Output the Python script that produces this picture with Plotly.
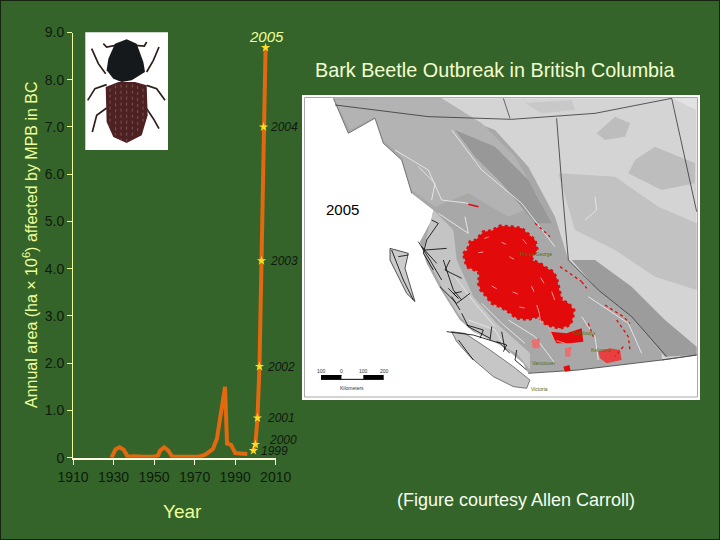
import plotly.graph_objects as go

hist_years = [1929, 1931, 1933, 1935, 1937, 1940, 1945, 1950, 1952, 1953, 1955, 1957, 1959, 1965, 1968, 1972, 1975, 1979,
              1981, 1983, 1985, 1986, 1988, 1990, 1993, 1996]
hist_area = [0.0, 0.18, 0.22, 0.17, 0.02, 0.03, 0.02, 0.02, 0.05, 0.15, 0.22, 0.15, 0.02, 0.02, 0.04, 0.02, 0.06, 0.18,
             0.4, 0.9, 1.5, 0.3, 0.27, 0.1, 0.08, 0.08]
recent_years = [1999, 2000, 2001, 2002, 2003, 2004, 2005]
recent_area = [0.15, 0.28, 0.84, 1.93, 4.17, 7.0, 8.68]
recent_labels = ["1999", "2000", "2001", "2002", "2003", "2004", "2005"]
y_ticks = [0, 1, 2, 3, 4, 5, 6, 7, 8, 9]
y_labels = ["0", "1.0", "2.0", "3.0", "4.0", "5.0", "6.0", "7.0", "8.0", "9.0"]
x_ticks = [1910, 1930, 1950, 1970, 1990, 2010]

BG = "#35642a"
PALE = "#eeff99"
FONT = "Liberation Sans"


# pictures are traced by hand in the coordinates of the zoomed crops
def map_path(pts, close=True, ox=0, oy=0):
    s = " L ".join(f"{(295 + (x + ox) / 3) / 720:.4f},{1 - (90 + (y + oy) / 3) / 540:.4f}" for x, y in pts)
    return "M " + s + (" Z" if close else "")


def bug_path(pts, close=True):
    s = " L ".join(f"{(85 + x / 3) / 720:.4f},{1 - (32 + y / 3) / 540:.4f}" for x, y in pts)
    return "M " + s + (" Z" if close else "")


shapes = []


def fill(path, color):
    shapes.append(dict(type="path", path=path, xref="paper", yref="paper", fillcolor=color, line_width=0, layer="below"))


def stroke(path, color, width, dash="solid"):
    shapes.append(dict(type="path", path=path, xref="paper", yref="paper", line=dict(color=color, width=width, dash=dash), layer="below"))


# map frame
shapes.append(dict(type="rect", xref="paper", yref="paper", x0=302 / 720, x1=700 / 720, y0=1 - 400 / 540, y1=1 - 95 / 540,
                   fillcolor="white", line_width=0, layer="below"))
shapes.append(dict(type="rect", xref="paper", yref="paper", x0=304.5 / 720, x1=697.5 / 720, y0=1 - 397 / 540, y1=1 - 97.5 / 540,
                   fillcolor="white", line=dict(color="#a9a9a9", width=1), layer="below"))

# land
coast = [(115, 25), (160, 130), (240, 85), (265, 160), (320, 210), (350, 310), (415, 360), (410, 390), (375, 455), (395, 520), (435, 595),
         (495, 690), (535, 725), (615, 760), (685, 820), (700, 850)]
south = [(850, 840), (1100, 810), (1205, 795)]
fill(map_path(coast + south + [(1205, 25)]), "#d4d4d4")
fill(map_path([(640, 25), (1205, 25), (1205, 60), (1130, 25)]), "#e2e2e2")
# mountains of BC
fill(map_path(coast + south[:2] + [(1100, 790), (1010, 680), (900, 590), (820, 510), (780, 380), (700, 230), (600, 120), (470, 70), (440, 25)]), "#a8a8a8")
fill(map_path([(120, 30), (440, 25), (560, 100), (660, 200), (740, 340), (640, 380), (520, 310), (420, 350), (350, 300), (320, 200), (265, 150), (240, 80), (165, 120)]), "#b3b3b3")
fill(map_path([(480, 120), (600, 170), (700, 270), (770, 400), (720, 400), (620, 280), (540, 200)]), "#989898")
# lighter strip along the coast
fill(map_path([(130, 0), (190, 60), (200, 150), (250, 260), (320, 340), (420, 430), (420, 480), (380, 430), (260, 370), (210, 320), (160, 240), (100, 120)], ox=285, oy=360), "#c4c4c4")
# foothills and Alberta
fill(map_path([(830, 510), (900, 510), (1010, 590), (1110, 690), (1205, 770), (1205, 795), (1110, 800), (1010, 680), (900, 590)]), "#9c9c9c")
fill(map_path([(790, 250), (960, 260), (1090, 350), (1205, 400), (1205, 600), (1080, 560), (960, 480), (840, 420)]), "#c2c2c2")
fill(map_path([(905, 130), (960, 80), (1005, 100), (990, 140), (930, 150)]), "#bdbdbd")
fill(map_path([(690, 40), (830, 30), (840, 60), (740, 70)]), "#c8c8c8")
fill(map_path([(1020, 210), (1080, 170), (1200, 220), (1200, 280), (1100, 300), (1000, 250)]), "#bdbdbd")
# valleys
for v in [[(300, 180), (400, 240), (440, 330), (520, 340)], [(370, 230), (420, 280), (410, 330)], [(470, 120), (560, 240), (680, 340), (780, 470)],
          [(430, 370), (520, 430), (510, 380)], [(640, 690), (720, 740), (780, 820)], [(880, 620), (1000, 700), (1040, 790)], [(860, 680), (900, 740), (910, 810)],
          [(520, 690), (600, 720), (640, 790)], [(900, 320), (905, 360), (870, 390)], [(560, 640), (620, 700), (690, 760)], [(480, 560), (540, 640), (600, 710)]]:
    stroke(map_path(v, False), "#e4e4e4", 1)

# islands
van_isl = [(185, 365), (225, 370), (300, 420), (370, 470), (420, 510), (410, 535), (370, 530), (310, 500), (240, 440), (200, 395)]
haida = [(0, 115), (55, 130), (45, 175), (75, 275), (50, 250), (15, 180), (0, 150)]
fill(map_path(van_isl, ox=285, oy=360), "#c6c6c6")
fill(map_path(haida, ox=285, oy=360), "#cccccc")

# coast and borders
stroke(map_path(coast[:6], False), "#555555", 0.7)
stroke(map_path(south + [(1100, 810)], False), "#444444", 0.8)
stroke(map_path(south[:1] + [(700, 850)], False), "#444444", 0.8)
stroke(map_path(van_isl, ox=285, oy=360), "#333333", 0.6)
stroke(map_path(haida, ox=285, oy=360), "#111111", 0.7)
stroke(map_path([(120, 45), (400, 80), (650, 88), (900, 70), (1130, 25)], False), "#333333", 0.8)
stroke(map_path([(785, 85), (800, 280), (820, 510), (910, 600), (1010, 680), (1115, 800)], False), "#333333", 0.8)
stroke(map_path([(1130, 25), (1205, 365)], False), "#333333", 0.8)
stroke(map_path([(625, 25), (645, 85)], False), "#333333", 0.7)
# fjords
for f in [[(125, 30), (145, 40), (110, 90), (100, 130), (130, 180)], [(85, 95), (120, 150), (155, 210)], [(180, 150), (165, 180), (215, 205)],
          [(160, 150), (190, 240), (215, 270)], [(150, 230), (200, 280), (240, 250)], [(175, 235), (205, 265), (190, 250), (215, 245)],
          [(215, 310), (235, 350), (300, 385)], [(170, 365), (250, 375), (330, 400), (360, 430)], [(305, 350), (300, 390)], [(335, 365), (345, 420)],
          [(380, 420), (375, 450), (410, 480)], [(105, 120), (170, 115)], [(230, 345), (280, 360), (270, 385)], [(320, 395), (350, 405), (340, 425)],
          [(95, 110), (140, 160)], [(185, 260), (210, 300)], [(5, 120), (40, 210), (70, 270)], [(25, 140), (55, 135)], [(205, 390), (250, 450)]]:
    stroke(map_path(f, False, ox=285, oy=360), "black", 0.8)

# beetle kill in red, crop at (450, 210)
RED = "#e20a0a"
PINK = "#eda8a8"
blob = [(40, 130), (52, 120), (60, 95), (78, 90), (100, 65), (125, 62), (150, 48), (185, 50), (215, 55), (238, 75), (255, 90), (262, 120), (250, 135),
        (245, 150), (270, 160), (290, 175), (310, 185), (320, 205), (328, 240), (335, 270), (355, 280), (372, 300), (368, 325), (360, 345), (330, 355),
        (290, 345), (265, 320), (235, 328), (200, 325), (175, 305), (150, 290), (125, 280), (110, 260), (92, 240), (85, 220), (88, 200), (85, 185), (50, 170)]
fill(map_path(blob, ox=465, oy=360), RED)
stroke(map_path(blob, ox=465, oy=360), RED, 3, "dot")
fill(map_path([(300, 365), (350, 370), (372, 362), (395, 355), (400, 395), (360, 400), (320, 400)], ox=465, oy=360), RED)
fill(map_path([(445, 425), (480, 415), (510, 420), (515, 450), (470, 460), (450, 445)], ox=465, oy=360), "#e84040")
fill(map_path([(340, 470), (358, 465), (362, 482), (345, 485)], ox=465, oy=360), RED)
fill(map_path([(245, 390), (270, 385), (268, 415), (248, 415)], ox=465, oy=360), "#e87070")
fill(map_path([(345, 415), (365, 410), (360, 440), (345, 440)], ox=465, oy=360), "#e87070")
for sp in [[(260, 285), (268, 310), (272, 340)], [(178, 140), (192, 148)], [(155, 97), (168, 103)], [(244, 228), (252, 245)], [(85, 128), (100, 126)],
           [(125, 228), (140, 236)], [(305, 245), (314, 270)], [(208, 291), (224, 294)], [(272, 203), (282, 220)], [(103, 85), (116, 81)], [(218, 88), (230, 102)],
           [(188, 246), (204, 252)], [(295, 350), (310, 385)], [(320, 392), (345, 400)]]:
    stroke(map_path(sp, False, ox=465, oy=360), PINK, 0.9)
for r in [[(255, 40), (300, 80)], [(330, 170), (395, 215)], [(395, 215), (410, 235)], [(465, 285), (520, 320), (540, 340)], [(500, 330), (535, 380), (540, 420)],
          [(415, 340), (430, 380)], [(520, 410), (495, 440)]]:
    stroke(map_path(r, False, ox=465, oy=360), RED, 1.3, "dot")
stroke(map_path([(520, 343), (550, 350)], False), RED, 1.6)

# scale bar
fill(map_path([(78, 855), (140, 855), (140, 868), (78, 868)]), "black")
fill(map_path([(140, 858), (205, 858), (205, 868), (140, 868)]), "white")
fill(map_path([(205, 855), (266, 855), (266, 868), (205, 868)]), "black")
stroke(map_path([(78, 868), (266, 868)], False), "black", 1)

# beetle picture
shapes.append(dict(type="rect", xref="paper", yref="paper", x0=85.3 / 720, x1=168 / 720, y0=1 - 150 / 540, y1=1 - 32.3 / 540,
                   fillcolor="white", line_width=0, layer="below"))
for leg in [[(20, 50), (40, 95), (62, 125)], [(222, 45), (205, 85), (185, 120)], [(8, 205), (30, 170), (65, 158)], [(240, 205), (215, 170), (185, 160)],
            [(22, 300), (35, 250), (65, 228)], [(222, 290), (205, 260), (185, 230)], [(55, 35), (65, 45), (92, 40)], [(185, 30), (178, 42), (150, 40)]]:
    stroke(bug_path(leg, False), "#2e1f1a", 1.7)
fill(bug_path([(62, 165), (100, 150), (150, 150), (185, 160), (188, 250), (170, 310), (125, 333), (85, 315), (65, 270)]), "#4d2122")
for rib in [[(75, 170), (75, 280)], [(92, 160), (92, 310)], [(108, 158), (108, 325)], [(125, 158), (125, 330)], [(142, 158), (142, 320)], [(158, 162), (158, 305)], [(174, 170), (174, 275)]]:
    stroke(bug_path(rib, False), "#7a5552", 1, "dot")
fill(bug_path([(90, 35), (125, 22), (155, 35), (175, 90), (180, 120), (140, 145), (110, 150), (85, 140), (65, 115), (70, 80)]), "#15191c")

# thin dark edge of the slide
shapes.append(dict(type="rect", xref="paper", yref="paper", x0=0, x1=1, y0=0, y1=1, line=dict(color="#16240f", width=2), layer="below"))

fig = go.Figure()
fig.add_trace(go.Scatter(x=hist_years, y=hist_area, mode="lines", line=dict(color="#e2690f", width=4), showlegend=False))
fig.add_trace(go.Scatter(x=recent_years, y=recent_area, mode="lines+markers", line=dict(color="#e2690f", width=4),
                         marker=dict(symbol="star", color="#ffdd22", size=7), showlegend=False))

# year labels sit to the right of their point, each nudged a little
label_dx = [21, 28, 24, 22, 22, 20, 1]
label_dy = [0, 4, 0, 0, 0, 0, 11]
for yr, val, lab, dx, dy in zip(recent_years, recent_area, recent_labels, label_dx, label_dy):
    last = lab == "2005"
    fig.add_annotation(x=yr, y=val, text=f"<i>{lab}</i>", showarrow=False, xshift=dx, yshift=dy,
                       font=dict(family=FONT, size=15 if last else 12, color=PALE if last else "#101810"))

texts = [
    ("Bark Beetle Outbreak in British Columbia", 495, 70, 19.8, "#f2ffd0"),
    ("(Figure courtesy Allen Carroll)", 516, 500, 18, "#f4fff0"),
    ("Year", 182, 511, 19, PALE),
    ("2005", 342.5, 209.5, 15, "black"),
    ("Prince George", 536, 253.5, 5, "#5a6a10"),
    ("Kamloops", 584, 333, 5, "#5a6a10"),
    ("Kelowna", 600, 349.5, 5, "#5a6a10"),
    ("Vancouver", 544, 363, 5, "#5a6a10"),
    ("Victoria", 539, 388.5, 5, "#5a6a10"),
    ("100", 321, 370.5, 5, "#333333"),
    ("0", 341.5, 370.5, 5, "#333333"),
    ("100", 363, 370.5, 5, "#333333"),
    ("200", 384, 370.5, 5, "#333333"),
    ("Kilometers", 352, 387.5, 5, "#333333"),
]
for t, px, py, size, col in texts:
    fig.add_annotation(x=px / 720, y=1 - py / 540, xref="paper", yref="paper", text=t, showarrow=False, xanchor="center", yanchor="middle",
                       font=dict(family=FONT, size=size, color=col))
fig.add_annotation(x=30 / 720, y=1 - 245 / 540, xref="paper", yref="paper", text="Annual area (ha × 10<sup>6</sup>) affected by MPB in BC",
                   textangle=-90, showarrow=False, xanchor="center", yanchor="middle", font=dict(family=FONT, size=16, color=PALE))

fig.update_layout(
    width=720, height=540, margin=dict(l=0, r=0, t=0, b=0, autoexpand=False),
    paper_bgcolor=BG, plot_bgcolor="rgba(0,0,0,0)", shapes=shapes,
    xaxis=dict(domain=[73 / 720, 275.7 / 720], range=[1910, 2010], tickvals=x_ticks, ticks="outside", ticklen=5, tickcolor="#fffde0",
               showline=True, linecolor="#fffde0", linewidth=2, showgrid=False, zeroline=False,
               tickfont=dict(family=FONT, size=14, color="#0c1c0c")),
    yaxis=dict(domain=[1 - 457.7 / 540, 1 - 32.5 / 540], range=[0, 9], tickvals=y_ticks, ticktext=y_labels, ticks="outside", ticklen=5,
               tickcolor="#eeff99", showline=True, linecolor=PALE, linewidth=1, showgrid=False, zeroline=False,
               tickfont=dict(family=FONT, size=14, color="#0c1c0c")),
)

fig.write_html("out.html", post_script="document.body.style.margin='0';", config=dict(displayModeBar=False))
